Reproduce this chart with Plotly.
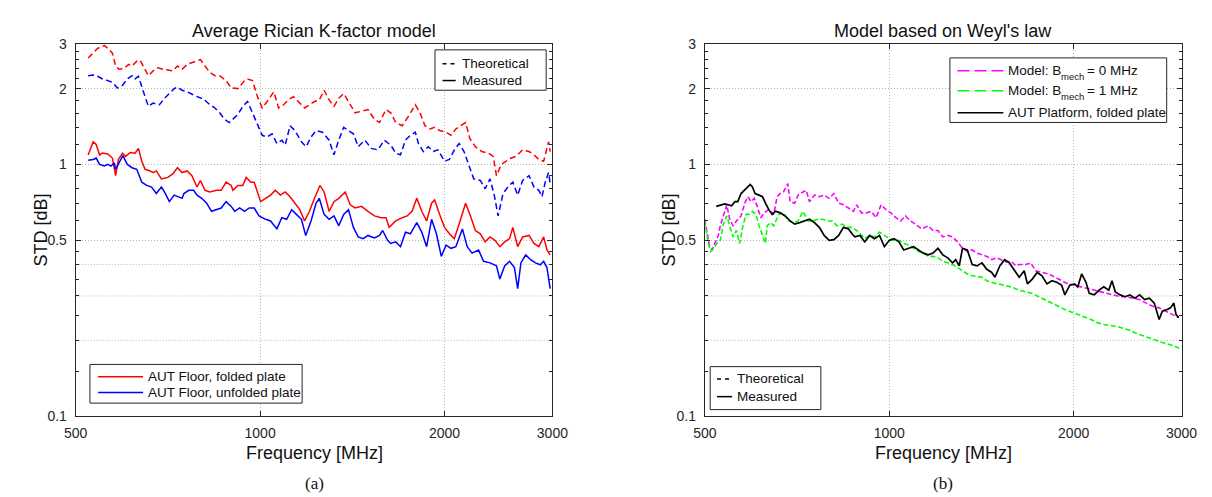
import plotly.graph_objects as go

# ---------------- (a) Average Rician K-factor model ----------------
f_folded_meas = [524, 534, 540, 547, 553, 564, 574, 581, 587, 596,
                 603, 614, 625, 633, 641, 649, 661, 669, 677, 690,
                 707, 720, 733, 746, 760, 774, 789, 799, 813, 828,
                 849, 864, 880, 897, 903, 920, 937, 949, 966, 978,
                 1002, 1021, 1040, 1059, 1079, 1099, 1119, 1140, 1161, 1182,
                 1204, 1227, 1252, 1272, 1296, 1320, 1344, 1377, 1403, 1429,
                 1464, 1500, 1537, 1576, 1605, 1624, 1665, 1706, 1738, 1770,
                 1802, 1836, 1870, 1905, 1927, 1963, 2000, 2037, 2075, 2113,
                 2165, 2205, 2246, 2288, 2330, 2373, 2417, 2462, 2507, 2554,
                 2585, 2633, 2682, 2748, 2799, 2851, 2903, 2939, 2975]
std_folded_meas = [1.09, 1.23, 1.20, 1.09, 1.11, 1.10, 1.06, 0.902, 1.046, 1.108,
                   1.076, 1.115, 1.108, 1.158, 1.03, 0.956, 0.942, 0.928, 0.942, 0.876,
                   0.888, 0.916, 0.970, 0.928, 0.942, 0.902, 0.813, 0.863, 0.789, 0.777,
                   0.789, 0.789, 0.850, 0.825, 0.789, 0.825, 0.825, 0.888, 0.850, 0.850,
                   0.711, 0.733, 0.755, 0.789, 0.755, 0.777, 0.744, 0.701, 0.661, 0.596,
                   0.651, 0.733, 0.825, 0.777, 0.651, 0.711, 0.733, 0.777, 0.691, 0.671,
                   0.681, 0.651, 0.624, 0.614, 0.614, 0.562, 0.596, 0.614, 0.624, 0.651,
                   0.733, 0.651, 0.596, 0.701, 0.722, 0.633, 0.562, 0.530, 0.507, 0.579,
                   0.701, 0.624, 0.546, 0.530, 0.492, 0.515, 0.499, 0.471, 0.492, 0.507,
                   0.562, 0.471, 0.515, 0.522, 0.485, 0.471, 0.515, 0.457, 0.437]

f_unfolded_meas = [524, 534, 540, 547, 557, 564, 571, 578, 581, 588,
                   597, 607, 618, 629, 641, 653, 665, 677, 690, 698,
                   711, 724, 746, 751, 765, 779, 789, 803, 818, 833,
                   849, 864, 880, 897, 909, 926, 943, 960, 978, 996,
                   1021, 1040, 1065, 1085, 1105, 1126, 1146, 1168, 1187, 1211,
                   1234, 1249, 1272, 1296, 1320, 1344, 1369, 1394, 1420, 1446,
                   1473, 1500, 1537, 1566, 1585, 1615, 1634, 1665, 1695, 1727,
                   1759, 1802, 1836, 1870, 1905, 1940, 1976, 2012, 2049, 2087,
                   2139, 2178, 2218, 2273, 2316, 2373, 2431, 2462, 2507, 2554,
                   2601, 2633, 2665, 2714, 2764, 2815, 2867, 2903, 2939, 2975]
std_unfolded_meas = [1.039, 1.046, 1.060, 1.0, 0.985, 1.0, 0.985, 1.014, 0.956, 1.014,
                     1.083, 1.0, 0.970, 0.956, 0.850, 0.825, 0.813, 0.766, 0.813, 0.777,
                     0.711, 0.755, 0.733, 0.766, 0.789, 0.789, 0.755, 0.733, 0.701, 0.651,
                     0.661, 0.671, 0.711, 0.681, 0.651, 0.671, 0.651, 0.671, 0.671, 0.624,
                     0.605, 0.596, 0.554, 0.614, 0.605, 0.661, 0.633, 0.605, 0.522, 0.596,
                     0.701, 0.733, 0.633, 0.605, 0.624, 0.570, 0.633, 0.661, 0.562, 0.515,
                     0.507, 0.522, 0.510, 0.522, 0.546, 0.499, 0.485, 0.492, 0.471, 0.538,
                     0.530, 0.587, 0.538, 0.471, 0.605, 0.530, 0.431, 0.478, 0.464, 0.471,
                     0.554, 0.471, 0.444, 0.457, 0.412, 0.406, 0.395, 0.350, 0.395, 0.412,
                     0.389, 0.321, 0.406, 0.437, 0.418, 0.406, 0.399, 0.412, 0.389, 0.321]

f_folded_theo = [524, 534, 543, 550, 557, 564, 574, 581, 588, 599,
                 610, 618, 629, 637, 645, 657, 669, 681, 694, 707,
                 720, 733, 746, 760, 774, 789, 799, 813, 828, 844,
                 859, 880, 897, 920, 943, 954, 972, 990, 1008, 1027,
                 1053, 1072, 1092, 1112, 1133, 1154, 1182, 1204, 1227, 1249,
                 1272, 1296, 1320, 1344, 1369, 1394, 1429, 1464, 1500, 1537,
                 1566, 1605, 1634, 1665, 1706, 1748, 1792, 1824, 1858, 1893,
                 1928, 1963, 2012, 2049, 2087, 2126, 2165, 2200, 2246, 2301,
                 2358, 2402, 2431, 2476, 2522, 2569, 2616, 2682, 2748, 2799,
                 2851, 2903, 2957, 2975]
std_folded_theo = [2.649, 2.769, 2.894, 2.92, 2.97, 2.894, 2.769, 2.460, 2.388, 2.403,
                   2.497, 2.460, 2.571, 2.594, 2.46, 2.251, 2.352, 2.42, 2.388, 2.373,
                   2.352, 2.46, 2.388, 2.497, 2.535, 2.571, 2.61, 2.46, 2.32, 2.251,
                   2.251, 2.153, 2.013, 2.001, 2.153, 2.186, 2.153, 1.859, 1.676, 1.778,
                   1.943, 1.676, 1.726, 1.804, 1.859, 1.778, 1.676, 1.726, 1.778, 1.804,
                   1.971, 1.804, 1.702, 1.831, 1.914, 1.778, 1.603, 1.627, 1.652, 1.511,
                   1.467, 1.652, 1.603, 1.467, 1.425, 1.558, 1.726, 1.603, 1.425, 1.383,
                   1.404, 1.363, 1.343, 1.305, 1.383, 1.425, 1.467, 1.265, 1.176, 1.125,
                   1.108, 1.076, 0.902, 1.0, 1.03, 1.060, 1.076, 1.142, 1.125, 1.092,
                   1.046, 1.03, 1.229, 1.125]

f_unfolded_theo = [524, 534, 543, 553, 564, 574, 585, 596, 607, 618,
                   625, 633, 645, 657, 669, 685, 698, 711, 724, 733,
                   746, 760, 774, 789, 808, 828, 844, 859, 875, 891,
                   920, 937, 954, 972, 990, 1008, 1027, 1046, 1065, 1085,
                   1099, 1119, 1140, 1168, 1189, 1211, 1234, 1264, 1296, 1320,
                   1344, 1369, 1394, 1420, 1446, 1482, 1519, 1557, 1595, 1634,
                   1665, 1695, 1727, 1759, 1792, 1813, 1847, 1881, 1916, 1951,
                   2000, 2037, 2075, 2113, 2152, 2192, 2232, 2288, 2330, 2373,
                   2411, 2446, 2492, 2538, 2585, 2633, 2682, 2748, 2799, 2851,
                   2885, 2920, 2957, 2975]
std_unfolded_theo = [2.251, 2.265, 2.24, 2.186, 2.153, 2.12, 2.013, 2.06, 2.186, 2.251,
                     2.186, 2.24, 1.943, 1.702, 1.752, 1.726, 1.831, 1.914, 2.001, 2.03,
                     1.971, 1.943, 1.897, 1.859, 1.82, 1.726, 1.676, 1.603, 1.511, 1.467,
                     1.579, 1.702, 1.778, 1.603, 1.425, 1.305, 1.285, 1.323, 1.211, 1.248,
                     1.193, 1.425, 1.363, 1.229, 1.176, 1.285, 1.363, 1.343, 1.248, 1.092,
                     1.248, 1.404, 1.363, 1.323, 1.176, 1.248, 1.158, 1.142, 1.248, 1.193,
                     1.108, 1.092, 1.248, 1.305, 1.343, 1.211, 1.125, 1.176, 1.125, 1.142,
                     1.03, 1.046, 1.142, 1.211, 1.125, 0.985, 0.876, 0.863, 0.80, 0.876,
                     0.755, 0.624, 0.766, 0.813, 0.850, 0.755, 0.863, 0.902, 0.813, 0.789,
                     0.744, 0.850, 0.928, 0.837]

# ---------------- (b) Model based on Weyl's law ----------------
f_platform_meas = [522, 530, 539, 546, 553, 560, 566, 573, 584, 593,
                   598, 604, 613, 621, 628, 636, 644, 652, 664, 676,
                   689, 701, 714, 728, 741, 755, 769, 783, 798, 812,
                   827, 842, 858, 874, 879, 896, 912, 929, 946, 964,
                   982, 1000, 1018, 1037, 1056, 1076, 1096, 1116, 1137, 1158,
                   1179, 1201, 1223, 1246, 1269, 1284, 1301, 1317, 1341, 1366,
                   1391, 1417, 1443, 1470, 1488, 1515, 1543, 1571, 1601, 1630,
                   1661, 1681, 1712, 1744, 1776, 1809, 1843, 1877, 1912, 1935,
                   1971, 2007, 2031, 2061, 2095, 2121, 2160, 2200, 2240, 2282,
                   2310, 2339, 2382, 2426, 2471, 2517, 2563, 2611, 2659, 2708,
                   2758, 2791, 2843, 2878, 2914, 2939, 2968]
std_platform_meas = [0.681, 0.686, 0.696, 0.691, 0.685, 0.711, 0.711, 0.766, 0.801, 0.832,
                     0.813, 0.766, 0.755, 0.744, 0.701, 0.661, 0.633, 0.651, 0.642, 0.624,
                     0.596, 0.579, 0.587, 0.596, 0.605, 0.587, 0.562, 0.522, 0.499, 0.502,
                     0.522, 0.562, 0.554, 0.522, 0.515, 0.522, 0.492, 0.522, 0.507, 0.522,
                     0.471, 0.499, 0.507, 0.492, 0.457, 0.464, 0.471, 0.457, 0.444, 0.437,
                     0.444, 0.464, 0.437, 0.425, 0.406, 0.418, 0.395, 0.464, 0.457, 0.400,
                     0.395, 0.406, 0.383, 0.372, 0.356, 0.395, 0.418, 0.406, 0.378, 0.356,
                     0.378, 0.335, 0.350, 0.372, 0.361, 0.335, 0.345, 0.340, 0.331, 0.303,
                     0.331, 0.335, 0.326, 0.367, 0.340, 0.307, 0.303, 0.316, 0.326, 0.316,
                     0.345, 0.311, 0.303, 0.298, 0.303, 0.294, 0.303, 0.290, 0.294, 0.281,
                     0.242, 0.261, 0.265, 0.269, 0.281, 0.253, 0.246]

f_model_b0 = [500, 504, 509, 514, 519, 526, 530, 536, 543, 549,
              556, 563, 573, 581, 588, 595, 602, 609, 617, 625,
              636, 648, 656, 664, 672, 683, 689, 701, 710, 723,
              732, 741, 755, 769, 783, 798, 812, 827, 842, 858,
              874, 885, 901, 918, 935, 952, 970, 988, 1006, 1025,
              1044, 1063, 1083, 1103, 1130, 1158, 1179, 1201, 1223, 1246,
              1269, 1293, 1317, 1341, 1366, 1391, 1417, 1443, 1470, 1497,
              1524, 1553, 1581, 1611, 1630, 1671, 1702, 1733, 1776, 1820,
              1865, 1912, 1958, 2007, 2057, 2107, 2160, 2214, 2268, 2324,
              2382, 2440, 2501, 2563, 2626, 2691, 2758, 2826, 2896, 2968]
std_model_b0 = [0.605, 0.546, 0.471, 0.457, 0.485, 0.522, 0.570, 0.624, 0.691, 0.605,
                0.570, 0.596, 0.624, 0.701, 0.744, 0.711, 0.733, 0.681, 0.614, 0.642,
                0.661, 0.633, 0.744, 0.766, 0.777, 0.838, 0.711, 0.701, 0.755, 0.777,
                0.789, 0.711, 0.755, 0.744, 0.755, 0.733, 0.766, 0.701, 0.691, 0.671,
                0.651, 0.691, 0.642, 0.642, 0.651, 0.614, 0.691, 0.661, 0.642, 0.614,
                0.596, 0.624, 0.596, 0.579, 0.554, 0.570, 0.546, 0.546, 0.515, 0.522,
                0.515, 0.492, 0.464, 0.451, 0.457, 0.444, 0.437, 0.431, 0.418, 0.425,
                0.418, 0.410, 0.412, 0.395, 0.400, 0.400, 0.406, 0.378, 0.372, 0.367,
                0.356, 0.345, 0.335, 0.331, 0.326, 0.321, 0.316, 0.311, 0.307, 0.303,
                0.298, 0.298, 0.294, 0.290, 0.281, 0.273, 0.269, 0.261, 0.253, 0.246]

f_model_b1 = [500, 506, 511, 517, 523, 530, 536, 543, 549, 556,
              563, 570, 577, 584, 591, 598, 606, 613, 621, 628,
              632, 640, 648, 660, 672, 685, 697, 710, 723, 737,
              750, 764, 778, 793, 807, 822, 838, 853, 869, 885,
              896, 912, 929, 946, 964, 982, 1000, 1018, 1037, 1056,
              1076, 1096, 1116, 1137, 1158, 1179, 1201, 1223, 1246, 1269,
              1293, 1317, 1341, 1366, 1391, 1417, 1443, 1470, 1497, 1524,
              1553, 1581, 1630, 1671, 1712, 1754, 1798, 1843, 1888, 1935,
              1983, 2031, 2082, 2134, 2186, 2240, 2296, 2352, 2411, 2471,
              2531, 2594, 2659, 2724, 2791, 2861, 2931, 2985]
std_model_b1 = [0.596, 0.492, 0.451, 0.464, 0.485, 0.499, 0.579, 0.624, 0.570, 0.515,
                0.546, 0.485, 0.570, 0.633, 0.633, 0.651, 0.633, 0.570, 0.522, 0.485,
                0.570, 0.587, 0.570, 0.633, 0.642, 0.596, 0.587, 0.596, 0.651, 0.596,
                0.596, 0.605, 0.605, 0.596, 0.596, 0.570, 0.579, 0.562, 0.562, 0.546,
                0.530, 0.507, 0.522, 0.515, 0.538, 0.522, 0.507, 0.499, 0.499, 0.485,
                0.478, 0.464, 0.451, 0.444, 0.431, 0.431, 0.425, 0.412, 0.406, 0.400,
                0.389, 0.378, 0.367, 0.361, 0.358, 0.356, 0.345, 0.340, 0.335, 0.333,
                0.329, 0.326, 0.316, 0.311, 0.307, 0.298, 0.290, 0.281, 0.273, 0.265,
                0.259, 0.253, 0.248, 0.242, 0.235, 0.231, 0.229, 0.227, 0.223, 0.219,
                0.213, 0.209, 0.204, 0.200, 0.196, 0.193, 0.189, 0.185]

# ---------------- axes tick definitions ----------------
x_tickvals = [500, 1000, 2000, 3000]
x_ticktext = ["500", "1000", "2000", "3000"]
y_tickvals = [0.1, 0.5, 1, 2, 3]
y_ticktext = ["0.1", "0.5", "1", "2", "3"]
y_extra_grid = [0.2, 0.3, 0.4]
y_minorvals = [0.15, 0.2, 0.25, 0.3, 0.35, 0.4, 0.45, 0.6, 0.7, 0.8, 0.9,
               1.2, 1.4, 1.6, 1.8, 2.2, 2.4, 2.6, 2.8]

FONT = "Liberation Sans, Arial, Helvetica, sans-serif"
SERIF = "Liberation Serif, Times New Roman, serif"
AX = "#262626"
TXT = "#111111"
GRID = "#b4b4b4"
DASH_L = "6px,3.5px"
DASH_R = "5px,2.5px"

W, H = 1212, 497
def px(x):
    return x / W
def py(y):
    return 1 - y / H

fig = go.Figure()

# left panel data
fig.add_trace(go.Scatter(x=f_folded_theo, y=std_folded_theo, mode="lines",
                         name="AUT Floor, folded plate (theoretical)",
                         line=dict(color="#ff0000", width=1.5, dash=DASH_L),
                         showlegend=False, xaxis="x", yaxis="y"))
fig.add_trace(go.Scatter(x=f_unfolded_theo, y=std_unfolded_theo, mode="lines",
                         name="AUT Floor, unfolded plate (theoretical)",
                         line=dict(color="#0000ff", width=1.5, dash=DASH_L),
                         showlegend=False, xaxis="x", yaxis="y"))
fig.add_trace(go.Scatter(x=f_folded_meas, y=std_folded_meas, mode="lines",
                         name="AUT Floor, folded plate",
                         line=dict(color="#ff0000", width=1.5),
                         showlegend=False, xaxis="x", yaxis="y"))
fig.add_trace(go.Scatter(x=f_unfolded_meas, y=std_unfolded_meas, mode="lines",
                         name="AUT Floor, unfolded plate",
                         line=dict(color="#0000ff", width=1.5),
                         showlegend=False, xaxis="x", yaxis="y"))

# right panel data
fig.add_trace(go.Scatter(x=f_model_b0, y=std_model_b0, mode="lines",
                         name="Model: B_mech = 0 MHz",
                         line=dict(color="#ff00ff", width=1.6, dash=DASH_R),
                         showlegend=False, xaxis="x2", yaxis="y2"))
fig.add_trace(go.Scatter(x=f_model_b1, y=std_model_b1, mode="lines",
                         name="Model: B_mech = 1 MHz",
                         line=dict(color="#00ff00", width=1.6, dash=DASH_R),
                         showlegend=False, xaxis="x2", yaxis="y2"))
fig.add_trace(go.Scatter(x=f_platform_meas, y=std_platform_meas, mode="lines",
                         name="AUT Platform, folded plate",
                         line=dict(color="#000000", width=1.7),
                         showlegend=False, xaxis="x2", yaxis="y2"))

ydom = [py(413.3), py(29.3)]

def xaxis_def(dom, anchor):
    return dict(type="log", domain=dom, anchor=anchor,
                range=[2.69897, 3.47713],
                tickmode="array", tickvals=x_tickvals, ticktext=x_ticktext,
                ticks="inside", ticklen=5, tickcolor=AX, tickwidth=1,
                showline=True, linecolor=AX, linewidth=1, mirror="allticks",
                showgrid=True, gridcolor=GRID, griddash="1px,2px", gridwidth=1,
                zeroline=False, tickfont=dict(family=FONT, size=14, color=AX),
                ticklabelstandoff=4)

def yaxis_def(anchor):
    return dict(type="log", domain=ydom, anchor=anchor,
                range=[-1, 0.47713],
                tickmode="array", tickvals=y_tickvals, ticktext=y_ticktext,
                ticks="inside", ticklen=5, tickcolor=AX, tickwidth=1,
                minor=dict(tickmode="array", tickvals=y_minorvals, ticks="inside",
                           ticklen=3, tickcolor=AX, showgrid=False),
                showline=True, linecolor=AX, linewidth=1, mirror="allticks",
                showgrid=True, gridcolor=GRID, griddash="1px,2px", gridwidth=1,
                zeroline=False, tickfont=dict(family=FONT, size=14, color=AX),
                ticklabelstandoff=5)

fig.update_layout(
    width=W, height=H, autosize=False,
    margin=dict(l=0, r=0, t=0, b=0),
    paper_bgcolor="white", plot_bgcolor="white",
    showlegend=False,
    xaxis=xaxis_def([px(57), px(545)], "y"),
    yaxis=yaxis_def("x"),
    xaxis2=xaxis_def([px(701), px(1189)], "y2"),
    yaxis2=yaxis_def("x2"),
)

shapes = []
ann = []

# extra dotted grid lines at 0.2, 0.3, 0.4 (unlabelled ticks)
for xr, yr in (("x domain", "y"), ("x2 domain", "y2")):
    for g in y_extra_grid:
        shapes.append(dict(type="line", xref=xr, yref=yr, x0=0, x1=1, y0=g, y1=g,
                           layer="below", line=dict(color=GRID, width=1, dash="1px,2px")))

def text(x, y, s, size=18, family=FONT, angle=0, xanchor="center", color=TXT):
    ann.append(dict(x=px(x), y=py(y), xref="paper", yref="paper", text=s,
                    showarrow=False, textangle=angle, xanchor=xanchor, yanchor="middle",
                    borderpad=0, font=dict(family=family, size=size, color=color)))

def legend_box(x0, y0, x1, y1, sx0, sx1, items):
    shapes.append(dict(type="rect", xref="paper", yref="paper",
                       x0=px(x0), x1=px(x1), y0=py(y1), y1=py(y0), layer="above",
                       line=dict(color=AX, width=1), fillcolor="white"))
    for pieces, color, dash, yy in items:
        shapes.append(dict(type="line", xref="paper", yref="paper",
                           x0=px(sx0), x1=px(sx1), y0=py(yy), y1=py(yy), layer="above",
                           line=dict(color=color, width=1.5, dash=dash)))
        for tx, dy, label, size in pieces:
            text(tx, yy + dy, label, size=size, xanchor="left")

legend_box(424.8, 35, 538.6, 76.7, 432.5, 446,
           [([(451, 0, "Theoretical", 13.5)], "#000000", "4px,4px", 49.3),
            ([(451, 0, "Measured", 13.5)], "#000000", "solid", 66.7)])
legend_box(71.6, 360, 288.8, 400, 80, 126,
           [([(130, 0, "AUT Floor, folded plate", 13.5)], "#ff0000", "solid", 372.7),
            ([(130, 0, "AUT Floor, unfolded plate", 13.5)], "#0000ff", "solid", 389)])
legend_box(951.9, 43.3, 1173.8, 110, 959.7, 1006.6,
           [([(1010.5, 0, "Model: B", 13.5), (1065, 6, "mech", 9.5),
              (1091, 0, "= 0 MHz", 13.5)], "#ff00ff", "12px,5px", 56.7),
            ([(1010.5, 0, "Model: B", 13.5), (1065, 6, "mech", 9.5),
              (1091, 0, "= 1 MHz", 13.5)], "#00ff00", "12px,5px", 77.3),
            ([(1010.5, 0, "AUT Platform, folded plate", 13.5)], "#000000", "solid", 100)])
legend_box(706.5, 362.3, 819.8, 406.7, 713.5, 729,
           [([(733, 0, "Theoretical", 13.5)], "#000000", "4px,4px", 375),
            ([(733, 0, "Measured", 13.5)], "#000000", "solid", 393.3)])

text(301, 15, "Average Rician K-factor model")
text(945, 15, "Model based on Weyl's law")
text(301, 451.7, "Frequency [MHz]")
text(945, 451.7, "Frequency [MHz]")
text(21, 221, "STD [dB]", angle=-90)
text(664, 221, "STD [dB]", angle=-90)
text(301, 483, "(a)", size=17, family=SERIF)
text(945, 483, "(b)", size=17, family=SERIF)

fig.update_layout(shapes=shapes, annotations=ann)

fig.write_html("out.html")
